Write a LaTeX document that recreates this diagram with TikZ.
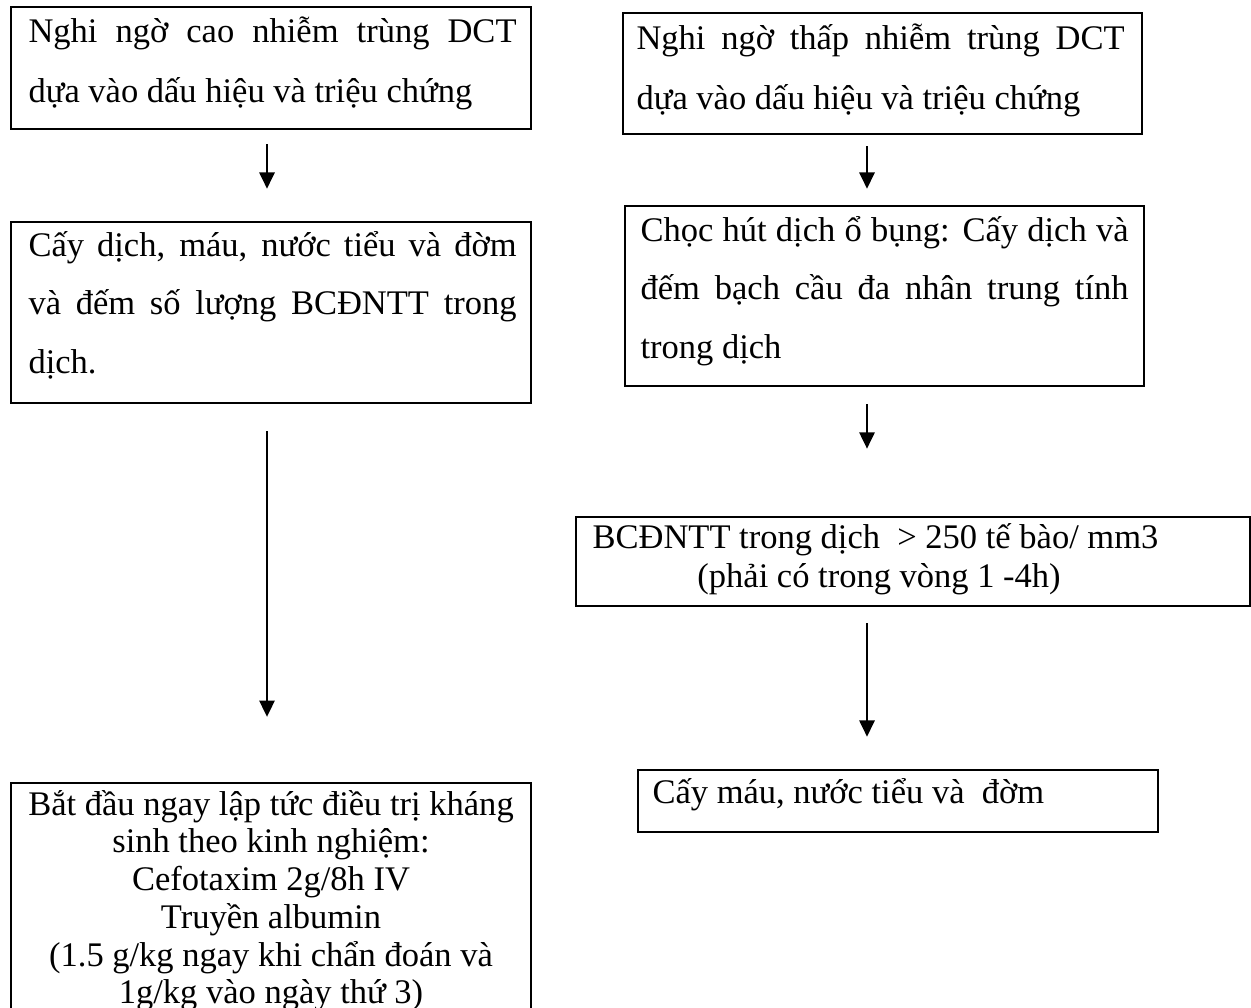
\documentclass[tikz,border=0pt]{standalone}
\usepackage{fontspec}
\setmainfont{Liberation Serif}
\usetikzlibrary{arrows.meta,fit}

% one text line stretched to the column width, centred in it, or at natural width
\newcommand\jl[1]{\hbox to 179.6pt{#1}}
\newcommand\cl[1]{\hbox to 179.6pt{\hfil#1\hfil}}
\newcommand\nl[1]{\hbox{#1}}
% a block of lines with a fixed baseline distance; its baseline is the first line's
\newcommand\para[2]{\vtop{\lineskiplimit=-\maxdimen\baselineskip=#1\relax #2}}

\tikzset{
  box/.style={draw, line width=0.9pt, inner sep=0pt},
  txt/.style={inner sep=0pt, anchor=base west, font=\fontsize{12.7}{14.6}\selectfont},
  arr/.style={line width=0.8pt, -{Triangle[width=5.6pt,length=6pt]}}
}

\begin{document}
\begin{tikzpicture}[x=0.368pt, y=-0.368pt]
  \useasboundingbox (0,0) rectangle (1251,1007);
  \fill[white] (0,0) rectangle (1251,1007);
  \clip (0,0) rectangle (1251,1007);

  % boxes
  \node[box, fit={(11,7) (531,129)}] (b1) {};
  \node[box, fit={(623,13) (1142,134)}] (b2) {};
  \node[box, fit={(11,222) (531,403)}] (b3) {};
  \node[box, fit={(625,206) (1144,386)}] (b4) {};
  \node[box, fit={(576,517) (1250,606)}] (b5) {};
  \node[box, fit={(638,770) (1158,832)}] (b6) {};
  \node[box, fit={(11,783) (531,1030)}] (b7) {};

  % texts
  \node[txt] (t1) at (28,42) {\para{22.08pt}{%
    \jl{Nghi ngờ cao nhiễm trùng DCT}%
    \nl{dựa vào dấu hiệu và triệu chứng}}};
  \node[txt] (t2) at (636,49) {\para{22.08pt}{%
    \jl{Nghi ngờ thấp nhiễm trùng DCT}%
    \nl{dựa vào dấu hiệu và triệu chứng}}};
  \node[txt] (t3) at (28,256) {\para{21.7pt}{%
    \jl{Cấy dịch, máu, nước tiểu và đờm}%
    \jl{và đếm số lượng BCĐNTT trong}%
    \nl{dịch.}}};
  \node[txt] (t4) at (640,241) {\para{21.7pt}{%
    \jl{Chọc hút dịch ổ bụng: Cấy dịch và}%
    \jl{đếm bạch cầu đa nhân trung tính}%
    \nl{trong dịch}}};
  \node[txt] (t5) at (592,548) {\para{14.5pt}{%
    \nl{BCĐNTT trong dịch~ > 250 tế bào/ mm3}%
    \nl{\kern38.6pt (phải có trong vòng 1 -4h)}}};
  \node[txt] (t6) at (652,803) {\nl{Cấy máu, nước tiểu và~ đờm}};
  \node[txt, anchor=base] (t7) at (271,815) {\para{13.9pt}{%
    \cl{Bắt đầu ngay lập tức điều trị kháng}%
    \cl{sinh theo kinh nghiệm:}%
    \cl{Cefotaxim 2g/8h IV}%
    \cl{Truyền albumin}%
    \cl{(1.5 g/kg ngay khi chẩn đoán và}%
    \cl{1g/kg vào ngày thứ 3)}}};

  % arrow columns
  \coordinate (cl) at (267,0);
  \coordinate (cr) at (867,0);

  % connectors
  \draw[arr, shorten <=5.2pt, shorten >=11.8pt] (b1.south -| cl) -- (b3.north -| cl);
  \draw[arr, shorten <=9.9pt, shorten >=23.9pt] (b3.south -| cl) -- (b7.north -| cl);
  \draw[arr, shorten <=4pt, shorten >=5.9pt] (b2.south -| cr) -- (b4.north -| cr);
  \draw[arr, shorten <=6.3pt, shorten >=24.7pt] (b4.south -| cr) -- (b5.north -| cr);
  \draw[arr, shorten <=5.9pt, shorten >=11.8pt] (b5.south -| cr) -- (b6.north -| cr);
\end{tikzpicture}
\end{document}
